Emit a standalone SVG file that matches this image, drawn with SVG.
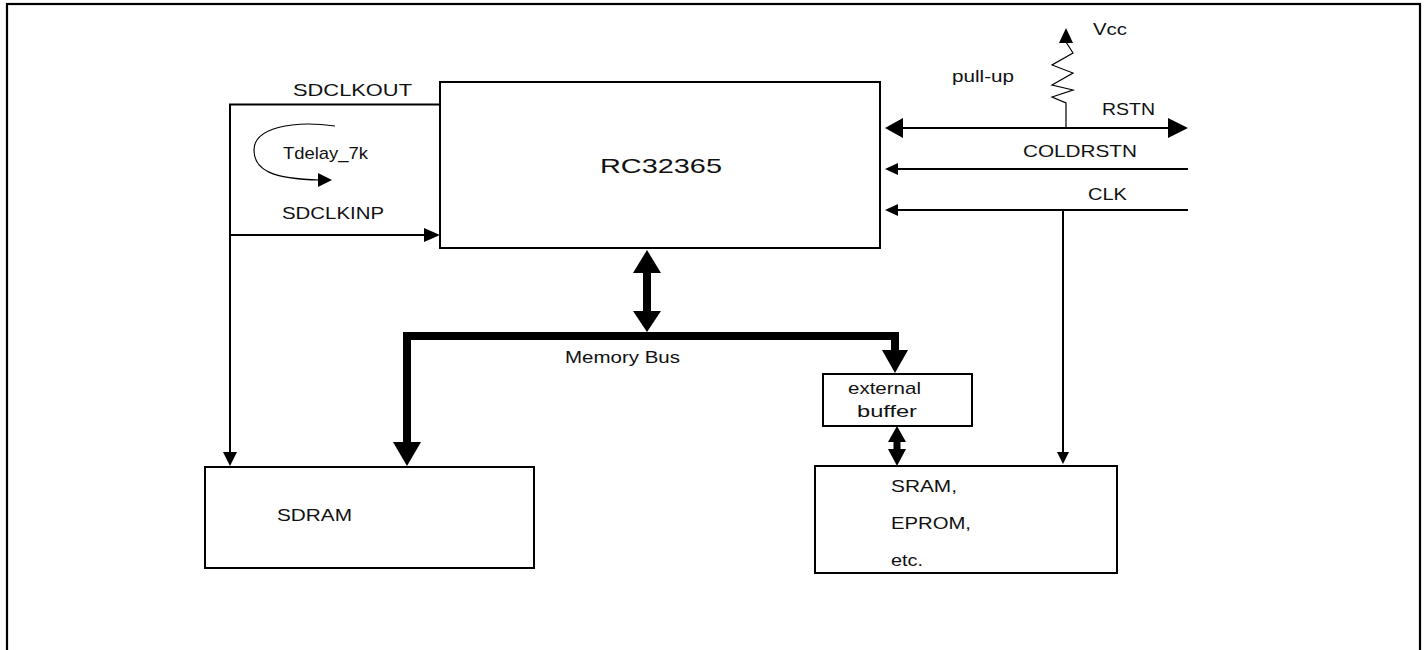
<svg xmlns="http://www.w3.org/2000/svg" width="1426" height="650" viewBox="0 0 1426 650">
<style>
text{font-family:"Liberation Sans",Arial,sans-serif;font-size:17px;fill:#111}
.box{fill:#fff;stroke:#000;stroke-width:2}
.ln{fill:none;stroke:#000;stroke-width:2}
.thin{fill:none;stroke:#000;stroke-width:1.2}
.bus{fill:none;stroke:#000;stroke-width:8;stroke-linejoin:miter;stroke-linecap:square}
.ah{fill:#000;stroke:none}
</style>
<rect x="0" y="0" width="1426" height="650" fill="#fff"/>
<rect x="7" y="4" width="1413" height="660" fill="none" stroke="#000" stroke-width="2.2"/>

<g id="rc32365">
<rect class="box" x="440" y="82" width="440" height="166"/>
<text x="600" y="173" style="font-size:21px" textLength="122" lengthAdjust="spacingAndGlyphs">RC32365</text>
</g>
<g id="sdram">
<rect class="box" x="205" y="467" width="329" height="101"/>
<text x="277" y="521" textLength="75" lengthAdjust="spacingAndGlyphs">SDRAM</text>
</g>
<g id="buffer">
<rect class="box" x="823" y="374" width="149" height="52"/>
<text x="848" y="394" textLength="73" lengthAdjust="spacingAndGlyphs">external</text>
<text x="857" y="417" textLength="60" lengthAdjust="spacingAndGlyphs">buffer</text>
</g>
<g id="sram">
<rect class="box" x="815" y="466" width="302" height="107"/>
<text x="891" y="492" textLength="66" lengthAdjust="spacingAndGlyphs">SRAM,</text>
<text x="891" y="529" textLength="80" lengthAdjust="spacingAndGlyphs">EPROM,</text>
<text x="891" y="566" textLength="32" lengthAdjust="spacingAndGlyphs">etc.</text>
</g>

<g id="connectors">
<!-- SDCLKOUT / SDCLKINP loop -->
<polyline class="ln" points="440,104.5 230,104.5 230,453"/>
<polygon class="ah" points="223,452 237,452 230,466"/>
<line class="ln" x1="230" y1="235" x2="425" y2="235"/>
<polygon class="ah" points="424,228 440,235 424,242"/>
<path class="thin" d="M335,126 C292,120 254,128 254,150 C254,170 272,179 320,180"/>
<polygon class="ah" points="318,173 332,180 318,187"/>
<text x="293" y="96" textLength="119" lengthAdjust="spacingAndGlyphs">SDCLKOUT</text>
<text x="283" y="159" textLength="85" lengthAdjust="spacingAndGlyphs">Tdelay_7k</text>
<text x="282" y="219" textLength="102" lengthAdjust="spacingAndGlyphs">SDCLKINP</text>

<!-- RSTN -->
<line class="ln" x1="900" y1="128" x2="1170" y2="128"/>
<polygon class="ah" points="903,118 885,128 903,138"/>
<polygon class="ah" points="1168,118 1188,128 1168,138"/>
<polyline class="thin" points="1066,128 1066,103 1052,97 1073,90 1052,85 1073,73 1052,65 1073,53 1066,42"/>
<polygon class="ah" points="1059,43 1066,28 1073,43"/>
<text x="1093" y="35" textLength="34" lengthAdjust="spacingAndGlyphs">Vcc</text>
<text x="952" y="82" textLength="62" lengthAdjust="spacingAndGlyphs">pull-up</text>
<text x="1102" y="115" textLength="53" lengthAdjust="spacingAndGlyphs">RSTN</text>

<!-- COLDRSTN -->
<line class="ln" x1="895" y1="169" x2="1188" y2="169"/>
<polygon class="ah" points="898,163 885,169 898,175"/>
<text x="1023" y="157" textLength="114" lengthAdjust="spacingAndGlyphs">COLDRSTN</text>

<!-- CLK -->
<line class="ln" x1="895" y1="210" x2="1188" y2="210"/>
<polygon class="ah" points="898,204 885,210 898,216"/>
<line class="ln" x1="1063" y1="210" x2="1063" y2="453"/>
<polygon class="ah" points="1057,452 1069,452 1063,464"/>
<text x="1088" y="200" textLength="39" lengthAdjust="spacingAndGlyphs">CLK</text>

<!-- Memory bus -->
<line x1="647" y1="270" x2="647" y2="315" stroke="#000" stroke-width="8"/>
<polygon class="ah" points="633,273 647,250 661,273"/>
<polygon class="ah" points="633,311 647,332 661,311"/>
<polyline class="bus" points="407,444 407,336 895,336 895,350"/>
<polygon class="ah" points="393,442 421,442 407,466"/>
<polygon class="ah" points="882,350 908,350 895,373"/>
<text x="565" y="363" textLength="115" lengthAdjust="spacingAndGlyphs">Memory Bus</text>

<!-- buffer to SRAM -->
<line x1="897" y1="438" x2="897" y2="454" stroke="#000" stroke-width="7"/>
<polygon class="ah" points="888,442 897,426 906,442"/>
<polygon class="ah" points="888,449 897,466 906,449"/>
</g>
</svg>
